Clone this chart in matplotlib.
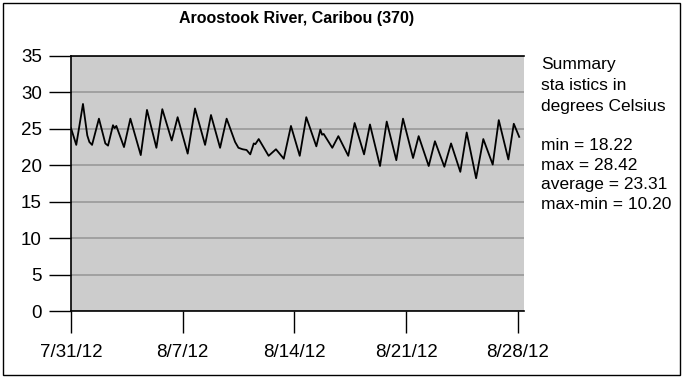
import matplotlib
matplotlib.use("Agg")
import matplotlib.pyplot as plt
from matplotlib.patches import Rectangle
import pandas as pd

plt.rcParams['font.family'] = ['Liberation Sans', 'DejaVu Sans']

# ---- data ----
title = "Aroostook River, Caribou (370)"
start_date = "2012-07-31"
# time offsets in days from 7/31/12 00:00
day_offsets = [0.00, 0.33, 0.75, 1.02, 1.15, 1.32, 1.75, 2.15, 2.32, 2.63, 2.73, 2.84, 3.32,
               3.72, 4.37, 4.76, 5.35, 5.72, 6.31, 6.68, 7.31, 7.77, 8.40, 8.77, 9.34,
               9.75, 10.28, 10.49, 10.75, 11.00, 11.23, 11.45, 11.55, 11.76, 12.38,
               12.84, 13.33, 13.78, 14.33, 14.74, 15.37, 15.62, 15.73, 15.83, 16.37,
               16.75, 17.37, 17.77, 18.36, 18.73, 19.36, 19.78, 20.38, 20.80, 21.43,
               21.78, 22.41, 22.80, 23.39, 23.81, 24.39, 24.79, 25.38, 25.83, 26.42,
               26.80, 27.40, 27.74, 28.08]
temps = [25.1, 22.8, 28.42, 24.1, 23.2, 22.8, 26.4, 23.0, 22.7, 25.5, 25.1, 25.4, 22.5,
         26.4, 21.4, 27.6, 22.4, 27.7, 23.4, 26.6, 21.6, 27.8, 22.8, 26.9, 22.4,
         26.4, 23.2, 22.4, 22.2, 22.1, 21.5, 23.0, 22.9, 23.6, 21.3,
         22.2, 20.9, 25.4, 21.3, 26.6, 22.6, 24.9, 24.2, 24.3, 22.4,
         24.0, 21.3, 25.8, 21.5, 25.6, 19.9, 26.0, 20.7, 26.4, 21.0,
         24.0, 19.9, 23.3, 19.8, 23.0, 19.1, 24.5, 18.22, 23.6, 20.1,
         26.2, 20.8, 25.7, 23.9]
tick_days = [0, 7, 14, 21, 28]
tick_labels = ["7/31/12", "8/7/12", "8/14/12", "8/21/12", "8/28/12"]
y_ticks = [0, 5, 10, 15, 20, 25, 30, 35]
summary_lines = ["Summary", "sta istics in", "degrees Celsius",
                 "min = 18.22", "max = 28.42", "average = 23.31", "max-min = 10.20"]

# ---- figure ----
W, H = 682, 377
fig = plt.figure(figsize=(W / 100, H / 100), dpi=100)
L, R, T, B = 71, 524, 56, 311
ax = fig.add_axes([L / W, 1 - B / H, (R - L) / W, (B - T) / H])

t0 = pd.Timestamp(start_date)
times = t0 + pd.to_timedelta(day_offsets, unit="D")
ax.plot(times, temps, color="black", lw=1.3, solid_joinstyle="round", zorder=3)

ax.set_facecolor("#cccccc")
ax.set_ylim(0, 35)
ax.set_yticks(y_ticks)
ax.set_xlim(t0, t0 + pd.Timedelta(days=28.38))
ax.set_xticks([t0 + pd.Timedelta(days=d) for d in tick_days])
ax.set_xticklabels(tick_labels)
ax.grid(axis="y", color="#a0a0a0", lw=1.4, zorder=1)
ax.set_axisbelow(True)
ax.tick_params(direction="out", length=16, width=1, colors="black", labelsize=13.5)
ax.tick_params(axis="y", pad=5)
ax.tick_params(axis="x", pad=8)
ax.spines["right"].set_visible(False)
for s in ("top", "left", "bottom"):
    ax.spines[s].set_color("black")
    ax.spines[s].set_linewidth(1.2)

fig.text(297 / W, 1 - 19 / H, title, ha="center", va="center",
         fontsize=11.5, fontweight="bold")

ys = [65, 85, 107, 145, 165, 185, 205]
for txt, y in zip(summary_lines, ys):
    fig.text(541 / W, 1 - y / H, txt, ha="left", va="center", fontsize=12.5)

fig.add_artist(Rectangle((2.5 / W, 2.5 / H), (W - 5) / W, (H - 5) / H,
                         transform=fig.transFigure, fill=False,
                         edgecolor="black", lw=1))

fig.savefig("out.png", dpi=100)
